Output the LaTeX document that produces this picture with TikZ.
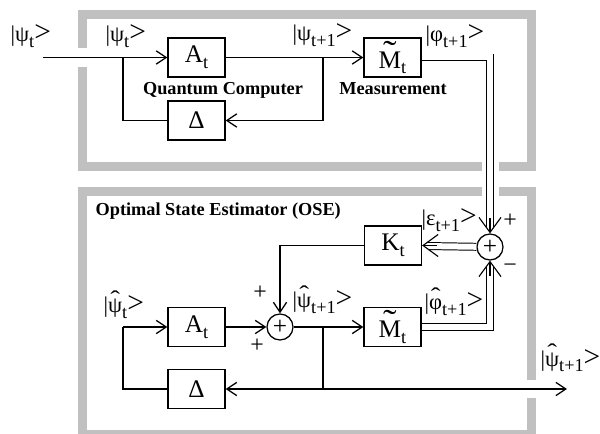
\documentclass[tikz,border=0pt]{standalone}
\usepackage{fontspec}
\setmainfont{Liberation Serif}
\usetikzlibrary{positioning, arrows.meta}
\definecolor{framegray}{RGB}{192,192,192}
\newcommand{\accon}[3]{{\setbox0\hbox{#3}\hbox to \wd0{\hss\raisebox{#2}{#1}\hss}\kern-\wd0\box0}}
\newcommand{\hatpsi}{\accon{\scalebox{1.3}[1]{\char"02C6}}{0.3em}{ψ}}
\newcommand{\hatphi}{\accon{\scalebox{1.3}[1]{\char"02C6}}{0.3em}{φ}}
\newcommand{\tildM}{\accon{\scalebox{1.6}[1.3]{\char"02DC}}{0.2em}{M}}
\newcommand{\subs}[1]{\raisebox{-4pt}{\fontsize{13}{13}\selectfont #1}}
\newcommand{\ketlbl}[2]{|#1\subs{#2}{\fontsize{21}{21}\selectfont >}}
\tikzset{
  >={Straight Barb[length=2.5mm,width=3.3mm]}, % open arrow head
  block/.style={draw, line width=0.9pt, minimum width=14.25mm, minimum height=9.75mm, inner sep=0, font=\fontsize{18}{18}\selectfont},
  sum/.style={draw, circle, line width=0.9pt, minimum size=6.5mm, inner sep=0, font=\fontsize{18}{18}\selectfont},
  panel/.style={framegray, line width=2.25mm},
  sig/.style={line width=0.9pt},
  dbl/.style={double, double distance=1.5mm, line width=0.7pt, shorten >=1.5mm},
  hollowtip/.style={-{Straight Barb[length=3.75mm,width=5.5mm]}, line width=0.8pt},
  lbl/.style={font=\fontsize{16}{16}\selectfont, inner sep=0, anchor=base west},
  title/.style={font=\bfseries\fontsize{13}{13}\selectfont, inner sep=0, anchor=base},
  sgn/.style={font=\fontsize{17}{17}\selectfont, inner sep=0}
}

\begin{document}
\begin{tikzpicture}[x=0.25mm, y=-0.25mm, sig]
  \useasboundingbox (0,0) rectangle (600,434);

  % Frames
  \draw[panel] (82,48) -- (82,15) -- (531,15) -- (531,167) -- (499,167);
  \draw[panel] (482,167) -- (82,167) -- (82,67);
  \draw[panel] (482,192) -- (82,192) -- (82,434) -- (531,434) -- (531,398);
  \draw[panel] (531,380) -- (531,192) -- (499,192);

  % Quantum computer
  \node[block] (qA) at (196.5,57.5) {A\subs{t}};
  \node[block] (qD) at (196.5,120.5) {Δ};
  \node[block] (qM) at (392.5,57.5) {\tildM\subs{t}};
  \coordinate (qin) at (43,57.5);
  \coordinate (qj1) at (123,57.5);
  \coordinate (qj2) at (323,57.5);
  \draw[->] (qin) -- (qA);
  \draw (qj1) |- (qD);
  \draw[->] (qA) -- (qM);
  \draw[->] (qj2) |- (qD);

  \node[lbl] (lin) at (10,42) {\ketlbl{ψ}{t}};
  \node[lbl] (lqa) at (105,42) {\ketlbl{ψ}{t}};
  \node[lbl] (lqm) at (292,41) {\ketlbl{ψ}{t+1}};
  \node[lbl] (lqo) at (425,42) {\ketlbl{φ}{t+1}};
  \node[title] (tqc) at (223,95) {Quantum Computer};
  \node[title] (tms) at (393,95) {Measurement};

  % Estimator
  \node[title, anchor=base west] (tose) at (95,216) {Optimal State Estimator (OSE)};
  \node[sum] (eS1) at (490,247) {+};
  \node[block] (eK) at (393,245.5) {K\subs{t}};
  \node[sum] (eS2) at (280,327) {+};
  \node[block] (eA) at (196.5,327) {A\subs{t}};
  \node[block] (eD) at (196.5,389) {Δ};
  \node[block] (eM) at (392.5,327) {\tildM\subs{t}};
  \coordinate (ein) at (123,327);
  \coordinate (ej) at (323,327);
  \coordinate (eout) at (567,389);
  \draw[->] (ein) -- (eA);
  \draw (ein) |- (eD);
  \draw[->] (eA) -- (eS2);
  \draw[->] (eS2) -- (eM);
  \draw[<->] (eD) -- (eout);
  \draw (ej) -- (ej |- eout);
  \draw[->] (eK) -| (eS2);

  % Double lines with hollow heads
  \draw[dbl] (qM) -| (eS1.north);
  \draw[dbl] (eS1) -- (eK);
  \draw[dbl] (eM) -| (eS1.south);
  \draw[hollowtip] ([yshift=3.75mm]eS1.north) -- (eS1.north);
  \draw[hollowtip] ([xshift=3.75mm]eK.east) -- (eK.east);
  \draw[hollowtip] ([yshift=-3.75mm]eS1.south) -- (eS1.south);

  % Signs
  \node[sgn] (pS1) at (510,221) {+};
  \node[sgn] (mS1) at (510,268) {−};
  \node[sgn] (pS2a) at (260,293) {+};
  \node[sgn] (pS2b) at (257,346) {+};

  \node[lbl] (lea) at (103,313) {\ketlbl{\hatpsi}{t}};
  \node[lbl] (lem) at (292,308) {\ketlbl{\hatpsi}{t+1}};
  \node[lbl] (lek) at (421,226) {\ketlbl{ε}{t+1}};
  \node[lbl] (leo) at (424,310) {\ketlbl{\hatphi}{t+1}};
  \node[lbl] (lout) at (540,366) {\ketlbl{\hatpsi}{t+1}};
\end{tikzpicture}
\end{document}
